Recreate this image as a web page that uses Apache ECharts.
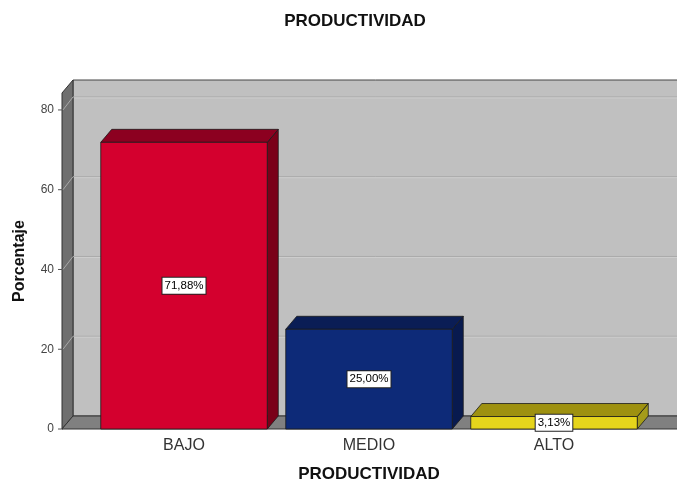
<!DOCTYPE html>
<html>
<head>
<meta charset="utf-8">
<script src="https://cdn.jsdelivr.net/npm/echarts@6/dist/echarts.min.js"></script>
<style>
  html, body { margin: 0; padding: 0; background: #fff; }
  #chart { width: 677px; height: 488px; }
</style>
</head>
<body>
<div id="chart"></div>
<script>
// datos
const categorias = ['BAJO', 'MEDIO', 'ALTO'];
const porcentajes = [71.88, 25.00, 3.13];
const marcasY = [0, 20, 40, 60, 80];

// estilos
const DX = 11, DY = -13;          // profundidad 3D
const OFFSET_EJE = 29.5;          // pared izquierda antes de la primera categoria
const frente = ['#d4002e', '#0d2a78', '#e6d51c'];
const arriba = ['#8c0020', '#0a1d55', '#9e9110'];
const lado = ['#7a0019', '#081a4f', '#a59c1a'];

window.onload = () => {
    let chart = echarts.init(document.getElementById('chart'));

    let option = {
        backgroundColor: '#fff',
        animation: false,
        title: {
            text: 'PRODUCTIVIDAD',
            left: 350,
            top: 8,
            textAlign: 'center',
            textStyle: { fontFamily: 'Liberation Sans', fontSize: 17, fontWeight: 'bold', color: '#111' }
        },
        grid: { left: 91.5, right: 30.5, top: 93, bottom: 58 },
        xAxis: {
            type: 'category',
            data: categorias,
            axisLine: { show: false },
            axisTick: { show: false },
            axisLabel: { margin: 9, fontFamily: 'Liberation Sans', fontSize: 16, color: '#333' },
            name: 'PRODUCTIVIDAD',
            nameLocation: 'middle',
            nameGap: 37,
            nameTextStyle: { fontFamily: 'Liberation Sans', fontSize: 17, fontWeight: 'bold', color: '#111' }
        },
        yAxis: {
            type: 'value',
            min: 0,
            max: 84.25,
            interval: 20,
            offset: OFFSET_EJE,
            axisLine: { show: true, lineStyle: { color: '#333' } },
            axisTick: { show: false },
            axisLabel: {
                margin: 8, fontFamily: 'Liberation Sans', fontSize: 12, color: '#444',
                formatter: v => (marcasY.indexOf(v) >= 0 ? String(v) : '')
            },
            splitLine: { show: false },
            name: 'Porcentaje',
            nameLocation: 'middle',
            nameGap: 34,
            nameTextStyle: { fontFamily: 'Liberation Sans', fontSize: 16, fontWeight: 'bold', color: '#111' }
        },
        series: [
            {
                // paredes y suelo
                type: 'custom',
                silent: true,
                z: 1,
                data: [[0, 0]],
                renderItem: (params, api) => {
                    const cs = params.coordSys;
                    const L = cs.x - OFFSET_EJE;
                    const W = api.getWidth() + 2;
                    const yT = cs.y, yB = cs.y + cs.height;
                    const children = [
                        { type: 'rect', shape: { x: L + DX, y: yT + DY, width: W - L - DX, height: cs.height },
                          style: { fill: '#c0c0c0', stroke: '#444', lineWidth: 1 } },
                        { type: 'polygon', shape: { points: [[L, yT], [L + DX, yT + DY], [L + DX, yB + DY], [L, yB]] },
                          style: { fill: '#6f6f6f', stroke: '#333', lineWidth: 1 } },
                        { type: 'polygon', shape: { points: [[L, yB], [L + DX, yB + DY], [W, yB + DY], [W, yB]] },
                          style: { fill: '#808080', stroke: '#333', lineWidth: 1 } }
                    ];
                    marcasY.forEach(t => {
                        const y = api.coord([0, t])[1];
                        children.push({ type: 'line', shape: { x1: L - 4, y1: y, x2: L, y2: y },
                            style: { stroke: '#555', lineWidth: 1 } });
                        if (t === 0) return;
                        children.push({ type: 'polyline', shape: { points: [[L + 1, y], [L + DX, y + DY], [W, y + DY]] },
                            style: { fill: null, stroke: '#a9a9a9', lineWidth: 1 } });
                        children.push({ type: 'line', shape: { x1: L + DX + 1, y1: y + DY + 1, x2: W, y2: y + DY + 1 },
                            style: { stroke: '#cdcdcd', lineWidth: 1 } });
                    });
                    return { type: 'group', children: children };
                }
            },
            {
                // barras 3D
                type: 'custom',
                z: 2,
                data: categorias.map((c, i) => [i, porcentajes[i]]),
                renderItem: (params, api) => {
                    const i = params.dataIndex;
                    const ci = api.value(0), v = api.value(1);
                    const top = api.coord([ci, v]);
                    const base = api.coord([ci, 0]);
                    const bw = api.size([1, 0])[0] * 0.9;
                    const x0 = top[0] - bw / 2, x1 = x0 + bw;
                    const yt = top[1], yb = base[1];
                    const borde = { stroke: '#1a1a1a', lineWidth: 0.8 };
                    return {
                        type: 'group',
                        children: [
                            { type: 'polygon', shape: { points: [[x1, yt], [x1 + DX, yt + DY], [x1 + DX, yb + DY], [x1, yb]] },
                              style: Object.assign({ fill: lado[i] }, borde) },
                            { type: 'polygon', shape: { points: [[x0, yt], [x0 + DX, yt + DY], [x1 + DX, yt + DY], [x1, yt]] },
                              style: Object.assign({ fill: arriba[i] }, borde) },
                            { type: 'rect', shape: { x: x0, y: yt, width: bw, height: yb - yt },
                              style: Object.assign({ fill: frente[i] }, borde) },
                            { type: 'text', z2: 10,
                              style: {
                                  x: (x0 + x1) / 2, y: (yt + yb) / 2,
                                  text: v.toFixed(2).replace('.', ',') + '%',
                                  align: 'center', verticalAlign: 'middle',
                                  fontFamily: 'Liberation Sans', fontSize: 11.5, fill: '#000',
                                  backgroundColor: '#fff', borderColor: '#222', borderWidth: 1,
                                  padding: [2, 2]
                              } }
                        ]
                    };
                }
            }
        ]
    };

    chart.setOption(option);
};
</script>
</body>
</html>
